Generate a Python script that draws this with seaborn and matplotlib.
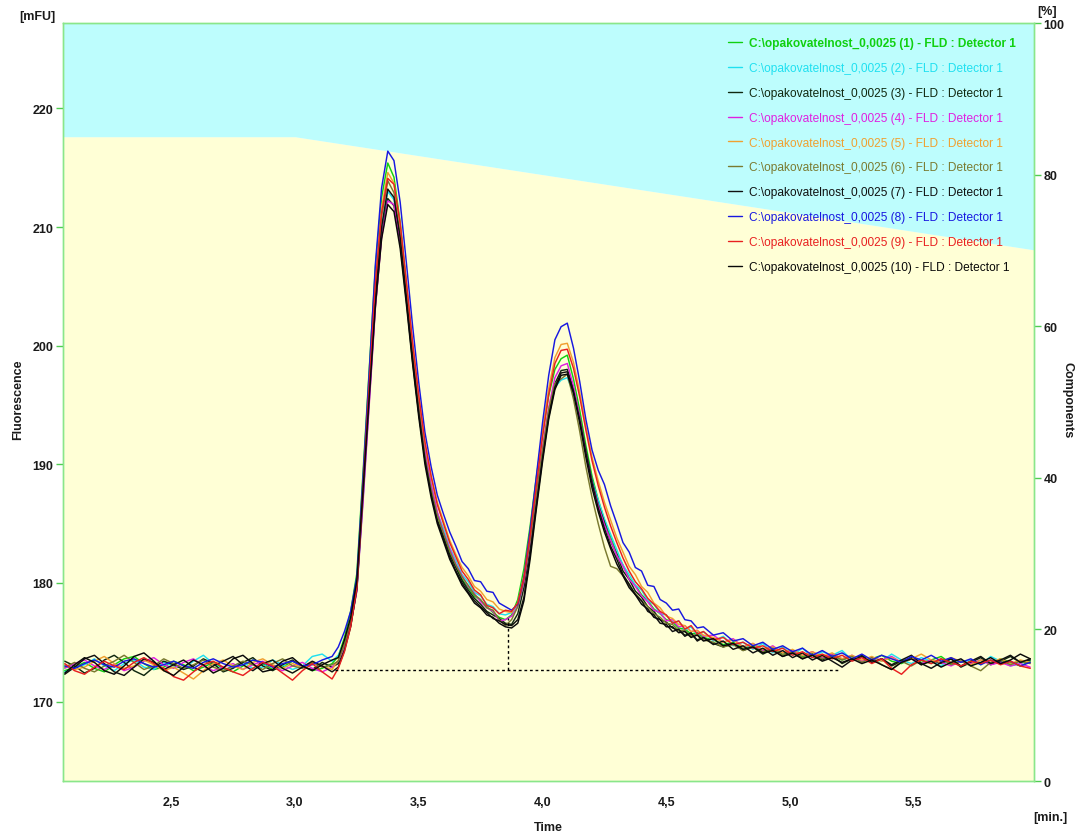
import numpy as np
import pandas as pd
import matplotlib
matplotlib.use("Agg")
import matplotlib.pyplot as plt
from matplotlib.lines import Line2D
from matplotlib.ticker import FuncFormatter, FixedLocator
import seaborn as sns

# Retention time grid [min]
time_min = [
    2.07, 2.11, 2.15, 2.19, 2.23, 2.27, 2.31, 2.35, 2.39, 2.43, 2.47, 2.51, 2.55, 2.59,
    2.63, 2.67, 2.71, 2.75, 2.79, 2.83, 2.87, 2.91, 2.95, 2.99, 3.03, 3.07, 3.11, 3.15,
    3.175, 3.200, 3.225, 3.250, 3.275, 3.300, 3.325, 3.350, 3.375, 3.400,
    3.425, 3.450, 3.475, 3.500, 3.525, 3.550, 3.575, 3.600, 3.625, 3.650,
    3.675, 3.700, 3.725, 3.750, 3.775, 3.800, 3.825, 3.850, 3.875, 3.900,
    3.925, 3.950, 3.975, 4.000, 4.025, 4.050, 4.075, 4.100, 4.125, 4.150,
    4.175, 4.200, 4.225, 4.250, 4.275, 4.300, 4.325, 4.350, 4.375, 4.400,
    4.425, 4.450, 4.475, 4.500, 4.525, 4.550, 4.575, 4.600, 4.625, 4.650,
    4.69, 4.73, 4.77, 4.81, 4.85, 4.89, 4.93, 4.97, 5.01, 5.05, 5.09, 5.13, 5.17,
    5.21, 5.25, 5.29, 5.33, 5.37, 5.41, 5.45, 5.49, 5.53, 5.57, 5.61, 5.65, 5.69,
    5.73, 5.77, 5.81, 5.85, 5.89, 5.93, 5.97,
]

# Fluorescence signal [mFU] of the ten repeated injections
run_01 = [
    172.6, 172.9, 173.3, 172.8, 172.5, 173.1, 173.6, 173.8, 173.2, 172.7, 172.9, 173.4, 173.1, 172.6,
    172.9, 173.3, 172.8, 172.5, 173.0, 173.5, 173.2, 172.7, 172.9, 173.4, 173.0, 172.6, 172.8, 173.2,
    173.8, 175.4, 177.6, 180.8, 189.3, 198.0, 206.6, 212.5, 215.4, 214.2,
    210.4, 205.2, 199.9, 195.2, 191.0, 188.0, 185.8, 184.0, 182.6, 181.4,
    180.3, 179.6, 178.9, 178.5, 178.0, 177.5, 177.1, 176.9, 177.3, 178.6,
    181.2, 184.8, 188.9, 192.6, 195.8, 198.0, 198.9, 199.2, 197.2, 194.6,
    191.6, 189.0, 187.0, 185.3, 183.9, 182.5, 181.5, 180.4, 179.8, 179.0,
    178.5, 177.8, 177.4, 176.9, 176.7, 176.2, 176.1, 175.7, 175.8, 175.4,
    175.2, 174.8, 175.0, 174.5, 174.7, 174.2, 174.4, 174.0, 174.3, 173.8, 174.0, 173.7, 173.9,
    173.5, 173.8, 173.4, 173.6, 173.9, 173.4, 173.2, 173.6, 173.3, 173.5, 173.8, 173.2, 173.4,
    173.1, 173.5, 173.2, 173.6, 173.3, 173.0, 173.4,
]
run_02 = [
    172.5, 172.8, 173.1, 173.6, 173.0, 172.6, 173.2, 173.5, 172.9, 172.7, 173.3, 173.0, 172.8, 173.4,
    173.9, 173.2, 172.6, 173.0, 173.3, 172.8, 172.9, 173.5, 173.1, 172.7, 173.0, 173.8, 174.0, 173.4,
    173.9, 175.0, 176.6, 179.5, 187.0, 195.5, 204.0, 210.0, 213.0, 212.3,
    209.0, 204.2, 199.3, 194.9, 191.0, 188.3, 185.9, 184.6, 183.0, 181.9,
    180.7, 180.1, 179.2, 178.9, 178.2, 178.0, 177.4, 177.3, 177.5, 178.0,
    180.0, 183.3, 187.2, 190.9, 194.2, 196.5, 197.1, 197.3, 196.0, 193.8,
    191.0, 188.7, 187.0, 185.4, 184.1, 182.8, 181.5, 180.7, 179.8, 179.4,
    178.5, 178.2, 177.4, 177.3, 176.6, 176.8, 176.0, 176.3, 175.6, 175.9,
    175.1, 175.5, 174.7, 175.0, 174.4, 174.9, 174.1, 174.6, 173.9, 174.5, 173.7, 174.2, 173.9,
    174.3, 173.5, 173.8, 173.6, 173.4, 174.0, 173.5, 173.2, 173.7, 173.4, 173.0, 173.6, 173.3,
    173.5, 173.1, 173.8, 173.4, 173.0, 173.2, 173.5,
]
run_03 = [
    173.4, 173.0, 172.4, 172.8, 173.5, 173.9, 173.3, 172.6, 172.2, 172.9, 173.4, 173.1, 172.7, 173.0,
    173.6, 173.2, 172.5, 172.8, 173.3, 173.7, 173.0, 172.6, 173.1, 173.5, 172.9, 172.7, 173.3, 172.9,
    173.2, 174.5, 176.4, 179.4, 187.2, 195.3, 203.3, 209.3, 212.4, 211.8,
    208.6, 203.8, 198.7, 194.3, 190.4, 187.6, 185.3, 183.9, 182.4, 181.3,
    180.2, 179.4, 178.7, 178.2, 177.6, 177.3, 177.0, 176.6, 176.5, 177.4,
    179.6, 183.0, 187.0, 190.9, 194.3, 196.8, 197.9, 198.0, 196.4, 194.0,
    191.2, 188.6, 186.6, 185.1, 183.5, 182.4, 181.0, 180.3, 179.3, 178.8,
    178.0, 177.6, 176.9, 176.7, 176.2, 176.0, 175.6, 175.7, 175.2, 175.4,
    174.9, 174.6, 174.9, 174.3, 174.6, 174.0, 174.4, 173.8, 174.1, 173.6, 174.0, 173.5, 173.9,
    173.2, 173.6, 173.9, 173.3, 173.6, 173.0, 173.4, 173.7, 173.1, 173.5, 173.2, 173.6, 172.9,
    173.3, 173.7, 173.1, 173.4, 173.8, 173.3, 173.5,
]
run_04 = [
    172.8, 173.2, 173.5, 173.0, 172.7, 173.1, 172.6, 172.9, 173.4, 173.7, 173.1, 172.8, 173.3, 173.6,
    173.0, 172.6, 172.9, 173.2, 172.7, 173.1, 173.4, 172.9, 172.6, 173.0, 173.3, 172.8, 172.5, 172.9,
    173.4, 174.6, 176.5, 179.3, 186.8, 195.0, 203.2, 209.1, 212.2, 211.9,
    208.9, 204.3, 199.4, 195.0, 191.2, 188.3, 186.0, 184.3, 182.9, 181.6,
    180.6, 179.7, 179.1, 178.4, 177.9, 177.6, 176.8, 176.9, 177.2, 178.0,
    180.1, 183.5, 187.5, 191.4, 194.8, 197.3, 198.3, 198.5, 196.6, 194.0,
    191.0, 188.4, 186.5, 184.9, 183.6, 182.3, 181.4, 180.3, 179.7, 178.9,
    178.4, 177.7, 177.5, 176.8, 176.9, 176.3, 176.4, 175.9, 176.0, 175.5,
    175.6, 175.0, 175.3, 174.6, 174.9, 174.3, 174.7, 174.1, 174.3, 173.9, 174.2, 173.7, 174.0,
    173.6, 173.9, 173.4, 173.7, 173.5, 173.8, 173.3, 173.6, 173.2, 173.5, 173.3, 173.0, 173.4,
    173.2, 173.5, 173.1, 173.3, 173.0, 173.2, 172.9,
]
run_05 = [
    173.1, 172.7, 172.9, 173.4, 173.8, 173.2, 172.8, 173.0, 173.5, 173.1, 172.6, 172.9, 172.4, 171.9,
    172.6, 173.2, 173.5, 173.0, 172.7, 173.3, 173.6, 173.1, 172.8, 173.2, 172.9, 173.3, 173.0, 172.7,
    173.5, 174.9, 176.9, 180.0, 188.2, 197.0, 205.6, 211.6, 214.6, 213.7,
    210.2, 205.2, 200.2, 195.7, 191.8, 189.0, 186.8, 185.2, 183.6, 182.4,
    181.3, 180.6, 179.7, 179.3, 178.6, 178.4, 177.8, 177.6, 177.5, 178.3,
    180.6, 184.3, 188.6, 192.8, 196.4, 199.0, 200.1, 200.2, 198.6, 196.1,
    193.2, 190.6, 188.6, 186.8, 185.3, 183.8, 182.6, 181.4, 180.7, 179.7,
    179.2, 178.3, 177.9, 177.2, 177.0, 176.5, 176.4, 175.9, 176.0, 175.6,
    175.4, 175.0, 175.2, 174.6, 174.9, 174.4, 174.6, 174.1, 174.4, 173.9, 174.2, 173.8, 174.1,
    173.6, 173.9, 173.5, 173.8, 173.4, 173.7, 173.3, 173.6, 174.0, 173.5, 173.3, 173.7, 173.4,
    173.1, 173.5, 173.3, 173.6, 173.2, 173.5, 173.3,
]
run_06 = [
    172.9, 173.3, 172.8, 172.5, 173.0, 173.4, 173.9, 173.3, 172.7, 173.0, 173.6, 173.2, 172.8, 173.1,
    173.5, 172.9, 172.6, 173.0, 173.4, 173.1, 172.7, 173.2, 173.6, 173.0, 172.8, 173.3, 172.9, 173.1,
    173.4, 174.8, 176.8, 179.8, 187.8, 196.3, 204.8, 210.9, 213.9, 212.9,
    209.3, 204.3, 199.2, 194.7, 190.7, 187.9, 185.7, 184.2, 182.7, 181.5,
    180.5, 179.8, 179.0, 178.6, 177.9, 177.7, 176.9, 176.4, 176.9, 178.0,
    180.3, 183.6, 187.5, 191.2, 194.6, 196.8, 197.2, 197.6, 195.5, 192.8,
    189.8, 187.2, 185.0, 183.0, 181.4, 181.2, 180.6, 179.8, 179.1, 178.5,
    178.0, 177.4, 177.1, 176.6, 176.5, 176.0, 176.0, 175.5, 175.7, 175.2,
    175.0, 174.6, 174.8, 174.3, 174.6, 174.2, 174.5, 173.9, 174.2, 173.7, 174.0, 173.6, 173.9,
    173.5, 173.8, 173.3, 173.7, 173.1, 172.7, 173.4, 173.0, 173.5, 173.2, 173.6, 173.1, 173.4,
    173.0, 172.6, 173.3, 173.5, 173.1, 173.4, 173.2,
]
run_07 = [
    172.3, 172.9, 173.6, 173.9, 173.2, 172.5, 172.2, 172.9, 173.6, 173.3, 172.7, 173.1, 173.5, 172.9,
    172.5, 173.0, 173.4, 173.8, 173.1, 172.6, 173.2, 173.5, 172.8, 172.4, 172.9, 173.4, 173.0, 172.5,
    172.9, 174.3, 176.3, 179.5, 187.6, 195.9, 204.1, 210.0, 213.2, 212.5,
    209.1, 204.1, 199.0, 194.4, 190.4, 187.5, 185.2, 183.7, 182.2, 181.0,
    180.0, 179.2, 178.5, 178.0, 177.5, 177.0, 176.8, 176.5, 176.4, 176.9,
    178.8, 182.4, 186.5, 190.5, 194.0, 196.5, 197.7, 197.8, 196.2, 193.8,
    191.0, 188.4, 186.3, 184.6, 183.1, 182.0, 180.7, 179.9, 179.0, 178.5,
    177.6, 177.3, 176.6, 176.5, 175.9, 176.1, 175.5, 175.8, 175.1, 175.4,
    174.8, 175.1, 174.4, 174.7, 174.1, 174.5, 173.9, 174.3, 173.7, 174.1, 173.5, 173.9, 173.4,
    172.9, 173.5, 173.8, 173.3, 173.6, 173.1, 173.5, 173.9, 173.2, 172.8, 173.3, 173.6, 173.0,
    173.4, 173.8, 173.2, 173.5, 173.9, 173.3, 173.6,
]
run_08 = [
    173.0, 172.8, 173.2, 173.5, 173.1, 172.9, 173.4, 173.6, 173.2, 172.9, 173.1, 173.4, 173.0, 172.8,
    173.3, 173.6, 173.2, 172.9, 173.1, 173.5, 173.3, 172.9, 173.2, 173.4, 173.0, 173.1, 173.5, 173.8,
    174.6, 175.9, 177.6, 180.5, 188.9, 197.8, 206.9, 213.3, 216.4, 215.6,
    212.1, 207.0, 201.7, 196.9, 192.7, 189.8, 187.4, 185.8, 184.3, 183.1,
    181.8, 181.2, 180.2, 180.1, 179.3, 179.2, 178.3, 178.0, 177.7, 178.2,
    180.5, 184.5, 189.0, 193.5, 197.5, 200.5, 201.6, 201.9, 199.8, 197.0,
    193.8, 191.2, 189.5, 188.3, 186.5, 185.0, 183.4, 182.6, 181.3, 181.0,
    179.8, 179.7, 178.6, 178.3, 177.7, 177.8, 176.9, 176.8, 176.2, 176.3,
    175.6, 175.8, 175.1, 175.3, 174.7, 175.0, 174.4, 174.7, 174.2, 174.5, 173.9, 174.3, 173.8,
    174.1, 173.6, 174.0, 173.5, 173.9, 173.6, 173.3, 173.8, 173.5, 173.9, 173.4, 173.7, 173.3,
    173.6, 173.1, 173.5, 173.2, 173.4, 173.0, 173.3,
]
run_09 = [
    173.2, 172.6, 172.3, 172.9, 173.4, 173.0, 172.7, 173.3, 173.7, 173.2, 172.8, 172.1, 171.8, 172.5,
    173.1, 173.4, 172.9, 172.5, 172.2, 172.8, 173.3, 173.0, 172.4, 171.8, 172.6, 173.2, 172.5, 171.9,
    172.8, 174.2, 176.3, 179.6, 188.0, 196.7, 205.3, 211.2, 214.1, 213.6,
    210.3, 205.4, 200.3, 195.8, 191.9, 189.0, 186.6, 185.0, 183.4, 182.2,
    181.0, 180.3, 179.4, 179.0, 178.1, 177.9, 177.4, 177.7, 177.6, 178.3,
    180.4, 184.0, 188.2, 192.3, 195.9, 198.5, 199.6, 199.7, 198.1, 195.7,
    192.9, 190.3, 188.2, 186.4, 184.8, 183.4, 182.1, 181.0, 180.1, 179.5,
    178.7, 178.2, 177.6, 177.3, 176.6, 176.8, 176.1, 176.4, 175.7, 175.9,
    175.2, 175.4, 174.8, 175.0, 174.5, 174.7, 174.2, 174.5, 173.9, 174.2, 173.7, 174.0, 173.6,
    173.9, 173.4, 173.7, 173.2, 173.6, 172.8, 172.3, 173.1, 173.5, 173.2, 173.6, 173.3, 173.0,
    173.4, 173.2, 173.5, 173.1, 173.4, 173.0, 172.8,
]
run_10 = [
    172.4, 173.1, 173.7, 173.3, 172.6, 172.3, 173.0, 173.8, 174.1, 173.4, 172.6, 172.2, 172.9, 173.5,
    173.1, 172.4, 172.8, 173.6, 173.9, 173.2, 172.5, 172.7, 173.4, 173.7, 173.0, 172.6, 173.1, 173.5,
    173.7, 175.2, 177.1, 180.2, 187.9, 195.7, 203.4, 209.0, 211.9, 211.3,
    208.2, 203.5, 198.5, 194.0, 190.0, 187.2, 185.0, 183.5, 182.0, 180.9,
    179.8, 179.1, 178.3, 177.9, 177.3, 177.1, 176.6, 176.3, 176.2, 176.6,
    178.5, 182.0, 186.2, 190.2, 193.8, 196.3, 197.5, 197.6, 196.0, 193.5,
    190.6, 188.0, 186.0, 184.3, 182.9, 181.6, 180.6, 179.6, 179.0, 178.2,
    177.8, 177.1, 176.9, 176.3, 176.3, 175.8, 175.9, 175.4, 175.6, 175.1,
    175.3, 174.7, 174.9, 174.4, 174.6, 174.1, 174.3, 173.8, 174.1, 173.6, 173.9, 173.4, 173.7,
    173.3, 173.6, 173.2, 173.5, 173.1, 172.7, 173.3, 173.6, 173.1, 173.4, 172.9, 173.3, 173.6,
    173.0, 173.3, 173.7, 173.2, 173.5, 174.0, 173.6,
]

run_signals = [run_01, run_02, run_03, run_04, run_05, run_06, run_07, run_08, run_09, run_10]
run_labels = [f"C:\\opakovatelnost_0,0025 ({i}) - FLD : Detector 1" for i in range(1, 11)]
run_colors = ["#10d010", "#20e0f0", "#102810", "#e020e0", "#f0a030",
              "#7a7a30", "#101010", "#1818e0", "#e82020", "#080808"]

# Mobile-phase gradient (Components, %)
gradient_time = [2.0, 3.0, 6.0]
gradient_pct = [85.0, 85.0, 70.0]

# Integration baseline and peak split (dotted)
baseline_time = [3.163, 5.203]
baseline_level = [172.7, 172.7]
split_time = [3.862, 3.862]
split_level = [172.7, 177.0]

x_ticks = [2.5, 3.0, 3.5, 4.0, 4.5, 5.0, 5.5]
y_ticks = [170, 180, 190, 200, 210, 220]
pct_ticks = [0, 20, 40, 60, 80, 100]

sns.set_theme(style="white")
plt.rcParams["font.family"] = ["Liberation Sans", "DejaVu Sans"]

df = pd.concat(
    [pd.DataFrame({"time": time_min, "signal": sig, "run": lab})
     for sig, lab in zip(run_signals, run_labels)],
    ignore_index=True,
)

fig = plt.figure(figsize=(10.82, 8.37), dpi=100)
ax = fig.add_axes([0.0582, 0.0657, 0.8974, 0.9056])
ax2 = ax.twinx()
ax.set_zorder(2)
ax2.set_zorder(1)
ax.patch.set_visible(False)

x_range = (2.063, 5.985)

# Gradient background on the Components axis
ax2.fill_between(gradient_time, 0, gradient_pct, color="#ffffd6", linewidth=0)
ax2.fill_between(gradient_time, gradient_pct, 100, color="#bdfdfd", linewidth=0)
ax2.set_ylim(0, 100)
ax2.set_xlim(*x_range)

sns.lineplot(data=df, x="time", y="signal", hue="run", palette=run_colors,
             hue_order=run_labels, ax=ax, legend=False, linewidth=1.05,
             estimator=None, sort=False)
for ln in ax.lines:
    ln.set_solid_joinstyle("round")

ax.plot(baseline_time, baseline_level, color="black", linestyle=(0, (2, 2)), linewidth=1.0)
ax.plot(split_time, split_level, color="black", linestyle=(0, (2, 2)), linewidth=1.0)

ax.set_xlim(*x_range)
ax.set_ylim(163.3, 227.2)
ax.set_xlabel("")
ax.set_ylabel("")

ax.xaxis.set_major_locator(FixedLocator(x_ticks))
ax.xaxis.set_major_formatter(FuncFormatter(lambda v, p: f"{v:.1f}".replace(".", ",")))
ax.yaxis.set_major_locator(FixedLocator(y_ticks))
ax2.yaxis.set_major_locator(FixedLocator(pct_ticks))

spine_color = "#8ae68a"
for a in (ax, ax2):
    for s in a.spines.values():
        s.set_color(spine_color)
        s.set_linewidth(1.0)
    a.tick_params(axis="both", which="major", color="#50cc50", labelcolor="#1a1a1a",
                  length=5, width=1, direction="out", labelsize=9)
ax.tick_params(axis="x", pad=6)
ax.tick_params(axis="y", pad=2)
ax2.tick_params(axis="y", pad=2)
for lab in ax.get_xticklabels() + ax.get_yticklabels() + ax2.get_yticklabels():
    lab.set_fontweight("bold")

# Legend
handles = [Line2D([0], [0], color=c, linewidth=1.0) for c in run_colors]
leg = ax.legend(handles, run_labels, loc="upper left",
                bbox_to_anchor=(728 / 1082, 1 - 38 / 837), bbox_transform=fig.transFigure,
                frameon=False, fontsize=8.6, handlelength=1.15, handletextpad=0.6,
                labelspacing=1.08, borderpad=0, borderaxespad=0)
for i, (txt, c) in enumerate(zip(leg.get_texts(), run_colors)):
    txt.set_color(c)
    if i == 0:
        txt.set_fontweight("bold")

# Axis titles and units
fig.text(18 / 1082, 1 - 400 / 837, "Fluorescence", rotation=90, ha="center", va="center",
         fontsize=9, fontweight="bold", color="#1a1a1a")
fig.text(1068 / 1082, 1 - 400 / 837, "Components", rotation=270, ha="center", va="center",
         fontsize=9, fontweight="bold", color="#1a1a1a")
fig.text(548 / 1082, 1 - 828 / 837, "Time", ha="center", va="center",
         fontsize=9, fontweight="bold", color="#1a1a1a")
fig.text(37 / 1082, 1 - 17 / 837, "[mFU]", ha="center", va="center",
         fontsize=9, fontweight="bold", color="#1a1a1a")
fig.text(1047 / 1082, 1 - 12 / 837, "[%]", ha="center", va="center",
         fontsize=9, fontweight="bold", color="#1a1a1a")
fig.text(1050 / 1082, 1 - 818 / 837, "[min.]", ha="center", va="center",
         fontsize=9, fontweight="bold", color="#1a1a1a")

fig.savefig("out.png", dpi=100, facecolor="white")
